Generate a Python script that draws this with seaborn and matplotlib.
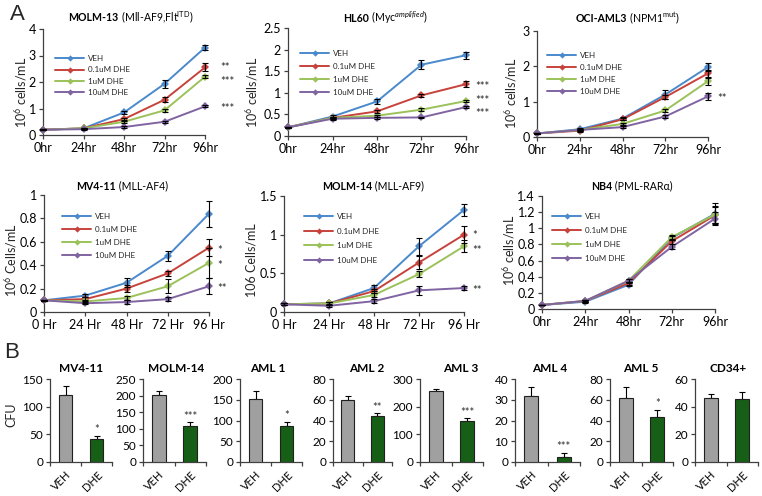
import numpy as np
import pandas as pd
import matplotlib
matplotlib.use("Agg")
import matplotlib.pyplot as plt
from matplotlib.lines import Line2D
from matplotlib.offsetbox import TextArea, HPacker, AnnotationBbox
import seaborn as sns

sns.set_theme(style="ticks")
plt.rcParams['font.family'] = ['Lato', 'DejaVu Sans']
plt.rcParams['mathtext.fontset'] = 'custom'
plt.rcParams['mathtext.rm'] = 'Lato'
plt.rcParams['mathtext.it'] = 'Lato:italic'
plt.rcParams['mathtext.bf'] = 'Lato:bold'

# ---------------- data ----------------
times_hr = ["0hr", "24hr", "48hr", "72hr", "96hr"]
times_Hr = ["0 Hr", "24 Hr", "48 Hr", "72 Hr", "96 Hr"]
treatments = ["VEH", "0.1uM DHE", "1uM DHE", "10uM DHE"]

molm13_means = [[0.2, 0.25, 0.85, 1.93, 3.3],
                [0.2, 0.25, 0.6, 1.33, 2.55],
                [0.2, 0.25, 0.5, 0.93, 2.2],
                [0.2, 0.22, 0.3, 0.5, 1.08]]
molm13_errs = [[0.02, 0.03, 0.05, 0.15, 0.1],
               [0.02, 0.03, 0.05, 0.1, 0.15],
               [0.02, 0.03, 0.04, 0.05, 0.05],
               [0.02, 0.02, 0.03, 0.04, 0.04]]
molm13_stars = ["", "**", "***", "***"]

hl60_means = [[0.2, 0.45, 0.8, 1.65, 1.87],
              [0.2, 0.42, 0.57, 0.94, 1.2],
              [0.2, 0.42, 0.47, 0.61, 0.81],
              [0.2, 0.4, 0.42, 0.43, 0.67]]
hl60_errs = [[0.01, 0.04, 0.05, 0.1, 0.08],
             [0.01, 0.03, 0.03, 0.04, 0.07],
             [0.01, 0.02, 0.02, 0.03, 0.03],
             [0.01, 0.02, 0.02, 0.02, 0.03]]
hl60_stars = ["", "***", "***", "***"]

oci_means = [[0.1, 0.22, 0.52, 1.2, 1.98],
             [0.1, 0.18, 0.5, 1.13, 1.8],
             [0.1, 0.2, 0.37, 0.75, 1.58],
             [0.1, 0.2, 0.28, 0.58, 1.15]]
oci_errs = [[0.01, 0.03, 0.04, 0.12, 0.12],
            [0.01, 0.03, 0.03, 0.06, 0.1],
            [0.01, 0.02, 0.03, 0.04, 0.1],
            [0.01, 0.02, 0.03, 0.04, 0.1]]
oci_stars = ["", "", "", "**"]

mv411_means = [[0.1, 0.14, 0.25, 0.48, 0.84],
               [0.1, 0.11, 0.2, 0.33, 0.55],
               [0.1, 0.09, 0.12, 0.22, 0.42],
               [0.1, 0.075, 0.085, 0.11, 0.22]]
mv411_errs = [[0.005, 0.015, 0.04, 0.04, 0.11],
              [0.005, 0.02, 0.03, 0.02, 0.07],
              [0.005, 0.01, 0.02, 0.06, 0.13],
              [0.005, 0.01, 0.02, 0.02, 0.07]]
mv411_stars = ["", "*", "*", "**"]

molm14_means = [[0.1, 0.11, 0.31, 0.85, 1.32],
                [0.1, 0.11, 0.27, 0.64, 1.0],
                [0.1, 0.11, 0.22, 0.49, 0.85],
                [0.1, 0.08, 0.14, 0.28, 0.31]]
molm14_errs = [[0.01, 0.02, 0.04, 0.11, 0.08],
               [0.01, 0.02, 0.03, 0.09, 0.11],
               [0.01, 0.02, 0.03, 0.04, 0.08],
               [0.01, 0.02, 0.03, 0.06, 0.02]]
molm14_stars = ["", "*", "**", "**"]

nb4_means = [[0.05, 0.09, 0.3, 0.88, 1.18],
             [0.05, 0.1, 0.32, 0.84, 1.16],
             [0.05, 0.1, 0.35, 0.89, 1.17],
             [0.05, 0.1, 0.35, 0.77, 1.12]]
nb4_errs = [[0.005, 0.01, 0.02, 0.03, 0.13],
            [0.005, 0.01, 0.02, 0.03, 0.1],
            [0.005, 0.01, 0.02, 0.03, 0.1],
            [0.005, 0.01, 0.02, 0.03, 0.08]]
nb4_stars = ["", "", "", ""]

bar_groups = ["VEH", "DHE"]
cfu_titles = ["MV4-11", "MOLM-14", "AML 1", "AML 2", "AML 3", "AML 4", "AML 5", "CD34+"]
cfu_veh = [121, 203, 152, 60, 255, 32, 62, 46]
cfu_veh_err = [17, 12, 18, 4, 10, 4, 10, 3.5]
cfu_dhe = [42, 107, 87, 44, 150, 2.5, 43, 45.5]
cfu_dhe_err = [5, 12, 10, 3, 8, 2, 7, 5]
cfu_stars = ["*", "***", "*", "**", "***", "***", "*", ""]
cfu_ymax = [150, 250, 200, 80, 300, 40, 80, 60]
cfu_ystep = [50, 50, 50, 20, 100, 10, 20, 20]

# ---------------- style ----------------
line_colors = ["#4A89CC", "#C8423C", "#9BC25A", "#8064A2"]
bar_colors = ["#A0A0A0", "#0B6B0B"]
axis_color = "#404040"

W, H = 762, 496
fig = plt.figure(figsize=(W / 100, H / 100), dpi=100)


def rect(l, r, top, bottom):
    return [l / W, 1 - bottom / H, (r - l) / W, (bottom - top) / H]


def fx(x):
    return x / W


def fy(y):
    return 1 - y / H


def style_axes(ax):
    sns.despine(ax=ax)
    for s in ("left", "bottom"):
        ax.spines[s].set_color(axis_color)
        ax.spines[s].set_linewidth(0.9)
    ax.tick_params(colors=axis_color, labelcolor="black", width=0.9, length=3,
                   direction="out", pad=2)


def mixed_title(cx, cy, bold, rest, size):
    parts = [TextArea(bold, textprops=dict(fontweight="bold", fontsize=size, color="black"))]
    if rest:
        parts.append(TextArea(" " + rest, textprops=dict(fontsize=size, color="black")))
    box = HPacker(children=parts, align="baseline", pad=0, sep=0)
    ab = AnnotationBbox(box, (fx(cx), fy(cy)), xycoords="figure fraction",
                        frameon=False, box_alignment=(0.5, 0.5), pad=0)
    fig.add_artist(ab)


def fmt(v):
    return f"{v:g}"


def line_panel(px, labels, means, errs, stars, ymax, ystep, ylabel, ylab_xy,
               title, title_xy, leg_xy, leg_space, star_dx, star_dy=None):
    ax = fig.add_axes(rect(*px))
    rows = []
    for t, m, e in zip(treatments, means, errs):
        for i, (lab, v, ee) in enumerate(zip(labels, m, e)):
            rows.append(dict(x=i, time=lab, val=v, err=ee, trt=t))
    df = pd.DataFrame(rows)
    sns.lineplot(data=df, x="x", y="val", hue="trt", hue_order=treatments,
                 palette=line_colors, marker="D", markersize=4.4,
                 markeredgewidth=0, linewidth=1.4, legend=False, ax=ax,
                 clip_on=False, zorder=3)
    handles = [Line2D([], [], color=c, marker="D", markersize=3.2, lw=1.4,
                      markeredgewidth=0) for c in line_colors]
    for t in treatments:
        sub = df[df.trt == t]
        ax.errorbar(sub.x, sub.val, yerr=sub.err, fmt="none", ecolor="black",
                    elinewidth=0.8, capsize=2.2, capthick=0.8, zorder=4,
                    clip_on=False)
    if star_dy is None:
        star_dy = [0] * len(treatments)
    for s, m, dy in zip(stars, means, star_dy):
        if s:
            ax.annotate(s, (len(labels) - 1, m[-1]), xytext=(star_dx, -4.3 + dy),
                        textcoords="offset points", ha="left", va="baseline",
                        fontsize=8, annotation_clip=False)
    ax.set_xlim(0, len(labels) - 1)
    ax.set_ylim(0, ymax)
    ax.set_xticks(range(len(labels)))
    ax.set_xticklabels(labels, fontsize=9)
    yt = np.arange(0, ymax + ystep / 2, ystep)
    ax.set_yticks(yt)
    ax.set_yticklabels([fmt(round(v, 2)) for v in yt], fontsize=9)
    ax.set_xlabel("")
    ax.set_ylabel("")
    ax.tick_params(axis="x", pad=4)
    style_axes(ax)
    fig.text(fx(ylab_xy[0]), fy(ylab_xy[1]), ylabel, rotation=90, ha="center",
             va="center", fontsize=9)
    mixed_title(title_xy[0], title_xy[1], title[0], title[1], 7.6)
    ax.legend(handles, treatments, loc="upper left",
              bbox_to_anchor=(fx(leg_xy[0]), fy(leg_xy[1])),
              bbox_transform=fig.transFigure, frameon=False, fontsize=5.8,
              handlelength=3.6, handletextpad=0.5, labelspacing=leg_space,
              borderpad=0, borderaxespad=0)
    return ax


ylab6 = "10$^{6}$ cells/mL"
ylab6C = "10$^{6}$ Cells/mL"

line_panel((43, 205, 29, 135), times_hr, molm13_means, molm13_errs, molm13_stars,
           4, 1, ylab6, (21, 92), ("MOLM-13", "(Mll-AF9,Flt$^{\\mathrm{ITD}}$)"),
           (131, 17), (55, 55), 0.55, 11, [0, 1.5, -1.5, 0])
line_panel((288, 466, 28, 136), times_hr, hl60_means, hl60_errs, hl60_stars,
           2.5, 0.5, ylab6, (252, 92), ("HL60", "(Myc$^{amplified}$)"),
           (385, 18), (300, 50), 0.75, 7, [0, 0, 2.5, -2.5])
line_panel((537, 708, 31, 137), times_hr, oci_means, oci_errs, oci_stars,
           3, 1, ylab6, (511, 93), ("OCI-AML3", "(NPM1$^{\\mathrm{mut}}$)"),
           (628, 18), (547, 52), 0.6, 7)
line_panel((44, 209, 195, 312), times_Hr, mv411_means, mv411_errs, mv411_stars,
           1, 0.2, ylab6C, (11, 260), ("MV4-11", "(MLL-AF4)"),
           (122, 186), (62, 213), 0.75, 6)
line_panel((284, 464, 196, 312), times_Hr, molm14_means, molm14_errs, molm14_stars,
           1.5, 0.5, "106 Cells/mL", (251, 260), ("MOLM-14", "(MLL-AF9)"),
           (373, 186), (304, 213), 0.95, 6, [0, 1.0, -1.0, 0])
line_panel((542, 715, 196, 309), times_hr, nb4_means, nb4_errs, nb4_stars,
           1.4, 0.2, ylab6, (509, 250), ("NB4", "(PML-RAR\u03b1)"),
           (632, 186), (552, 213), 0.85, 6)

# ---------------- panel B ----------------
bar_px = [(50, 112), (143, 206), (240, 302), (333, 392),
          (420, 483), (515, 580), (610, 673), (695, 758)]
bar_titles_x = [81, 176, 268, 367, 461, 550, 641, 728]
for i, title in enumerate(cfu_titles):
    l, r = bar_px[i]
    ax = fig.add_axes(rect(l, r, 379, 462))
    df = pd.DataFrame({"grp": bar_groups,
                       "val": [cfu_veh[i], cfu_dhe[i]],
                       "err": [cfu_veh_err[i], cfu_dhe_err[i]]})
    sns.barplot(data=df, x="grp", y="val", hue="grp", palette=bar_colors,
                width=0.44, edgecolor="#202020", linewidth=0.8, legend=False,
                ax=ax, zorder=3)
    ax.errorbar(range(2), df.val, yerr=[np.zeros(2), df.err], fmt="none",
                ecolor="black", elinewidth=0.8, capsize=2.5, capthick=0.8,
                zorder=2)
    if cfu_stars[i]:
        ax.annotate(cfu_stars[i], (1, cfu_dhe[i] + cfu_dhe_err[i]),
                    xytext=(0, 0.5), textcoords="offset points", ha="center",
                    va="bottom", fontsize=8, color="#303030")
    ax.set_xlim(-0.5, 1.5)
    ax.set_ylim(0, cfu_ymax[i])
    yt = np.arange(0, cfu_ymax[i] + 1, cfu_ystep[i])
    ax.set_yticks(yt)
    ax.set_yticklabels([fmt(v) for v in yt], fontsize=8.5)
    ax.set_xticks(range(2))
    ax.set_xticklabels(bar_groups, rotation=45, ha="right",
                       rotation_mode="anchor", fontsize=8)
    ax.set_xticks([-0.5, 0.5, 1.5], minor=True)
    ax.set_xlabel("")
    ax.set_ylabel("")
    style_axes(ax)
    ax.tick_params(axis="x", which="major", length=0, pad=5)
    ax.tick_params(axis="x", which="minor", length=3, color=axis_color,
                   width=0.9, direction="out")
    mixed_title(bar_titles_x[i], 369, title, "", 8.5)

fig.text(fx(11), fy(415), "CFU", rotation=90, ha="center", va="center",
         fontsize=9)

fig.text(fx(17), fy(14), "A", ha="center", va="center", fontsize=16,
         family="Liberation Sans")
fig.text(fx(12), fy(353), "B", ha="center", va="center", fontsize=16,
         family="Liberation Sans")

fig.savefig("out.png", dpi=100)
